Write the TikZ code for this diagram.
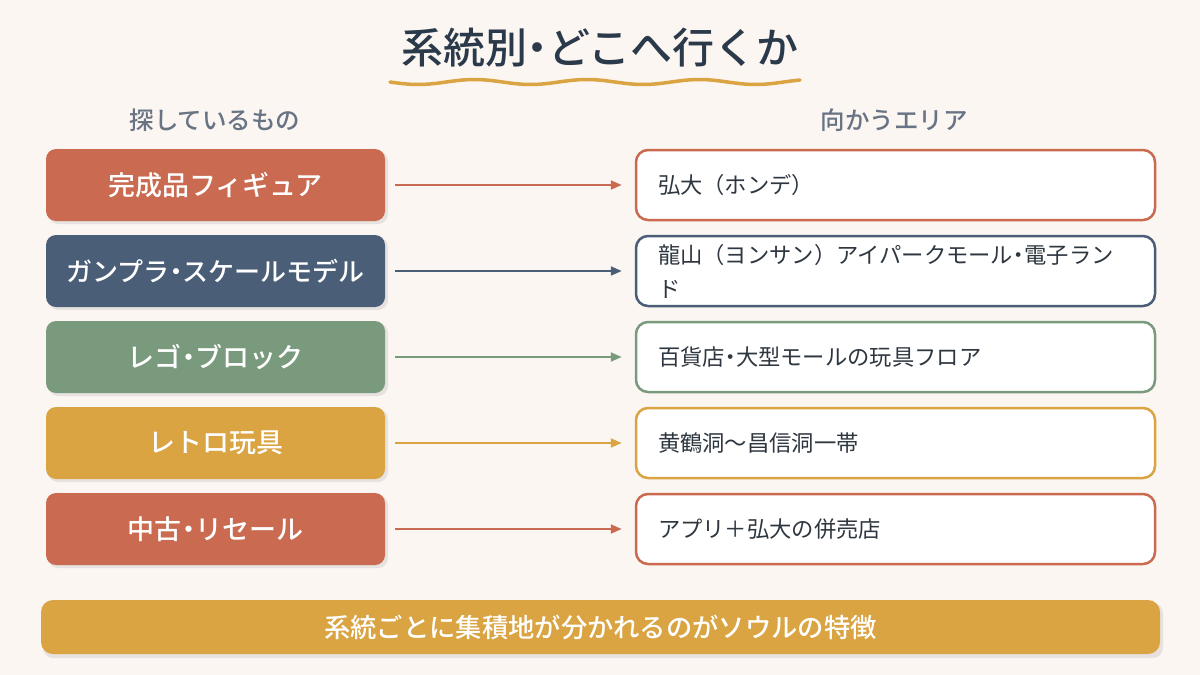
\documentclass[tikz,border=0pt]{standalone}
\usepackage{fontspec}
\setmainfont{Noto Sans CJK JP}
\newfontfamily\med{Noto Sans CJK JP Medium}
\usetikzlibrary{arrows.meta}
\definecolor{bg}{HTML}{FBF6F2}
\definecolor{cred}{HTML}{C96A51}
\definecolor{cnavy}{HTML}{4A5E78}
\definecolor{cgreen}{HTML}{7A9A7E}
\definecolor{cgold}{HTML}{D9A441}
\definecolor{ctitle}{HTML}{2B3A4A}
\definecolor{chead}{HTML}{687383}
\definecolor{ctext}{HTML}{2E3640}
\newcommand{\nd}{\hspace{-0.25em}・\hspace{-0.25em}}
\tikzset{
  catbox/.style={rounded corners=10pt, fill=#1, minimum width=339pt, minimum height=72pt,
    text=white, font=\fontsize{27}{30}\selectfont\med, inner sep=0pt},
  areabox/.style={rounded corners=12pt, draw=#1, line width=2.5pt, fill=white,
    minimum width=519pt, minimum height=70pt, text width=475pt, align=left,
    inner xsep=22pt, inner ysep=0pt, text=ctext, font=\fontsize{22.3}{34}\selectfont},
  link/.style={draw=#1, line width=2pt, -{Triangle[length=11pt,width=9pt]},
    shorten <=10pt, shorten >=13pt},
  head/.style={text=chead, font=\fontsize{24.5}{28}\selectfont\med},
  shade/.style={rounded corners=10pt, fill=black, opacity=0.08}
}
\begin{document}
\begin{tikzpicture}[x=1pt,y=-1pt]
\useasboundingbox (0,0) rectangle (1200,675);
\fill[bg] (0,0) rectangle (1200,675);
% title
\node[text=ctitle, font=\fontsize{42}{46}\selectfont\med] (title) at (600,48) {系統別\nd どこへ行くか};
\draw[cgold, line width=3.5pt, line cap=round] plot[domain=390:800, samples=120, smooth] (\x, {82+2.5*sin((\x-390)*3.2)});
% headers
\node[head] (hl) at (215,120) {探しているもの};
\node[head] (hr) at (894,120) {向かうエリア};
% shadows
\foreach \y in {185,271,357,443,529} {
  \fill[shade] (48,\y-34) rectangle (388,\y+39);
}
\fill[shade] (43,603) rectangle (1163,658);
% left boxes
\node[catbox=cred]  (l1) at (215.5,185) {完成品フィギュア};
\node[catbox=cnavy, font=\fontsize{26}{30}\selectfont\med] (l2) at (215.5,271) {ガンプラ\nd スケールモデル};
\node[catbox=cgreen](l3) at (215.5,357) {レゴ\nd ブロック};
\node[catbox=cgold] (l4) at (215.5,443) {レトロ玩具};
\node[catbox=cred]  (l5) at (215.5,529) {中古\nd リセール};
% right boxes
\node[areabox=cred]  (r1) at (895.5,185) {弘大（ホンデ）};
\node[areabox=cnavy] (r2) at (895.5,271) {龍山（ヨンサン）アイパークモール\nd 電子ラン\\ド};
\node[areabox=cgreen](r3) at (895.5,357) {百貨店\nd 大型モールの玩具フロア};
\node[areabox=cgold] (r4) at (895.5,443) {黄鶴洞〜昌信洞一帯};
\node[areabox=cred]  (r5) at (895.5,529) {アプリ＋弘大の併売店};
% arrows
\draw[link=cred]   (l1) -- (r1);
\draw[link=cnavy]  (l2) -- (r2);
\draw[link=cgreen] (l3) -- (r3);
\draw[link=cgold]  (l4) -- (r4);
\draw[link=cred]   (l5) -- (r5);
% bottom banner
\node[rounded corners=12pt, fill=cgold, minimum width=1119pt, minimum height=54pt, inner sep=0pt,
  text=white, font=\fontsize{26.3}{28}\selectfont\med] (banner) at (600.5,627) {系統ごとに集積地が分かれるのがソウルの特徴};
\end{tikzpicture}
\end{document}
